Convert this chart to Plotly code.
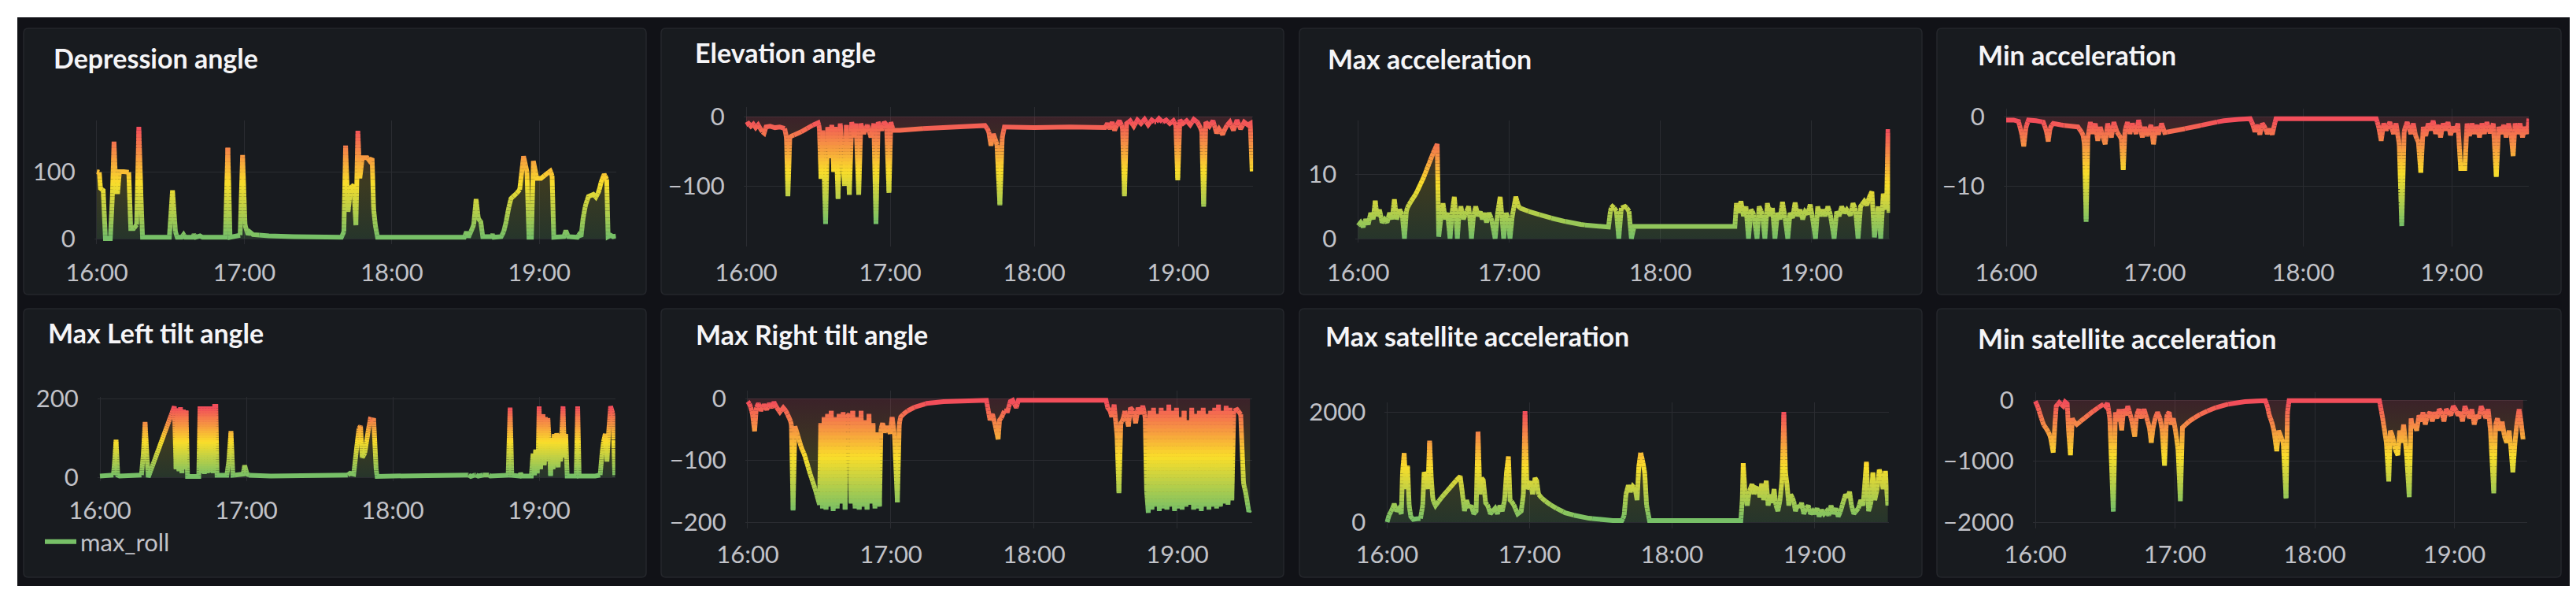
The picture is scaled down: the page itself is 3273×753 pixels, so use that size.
import numpy as np
import plotly.graph_objects as go

W, H = 3273, 753

hour_ticks = [0, 60, 120, 180]
hour_labels = ["16:00", "17:00", "18:00", "19:00"]

titles = [
    "Depression angle", "Elevation angle", "Max acceleration", "Min acceleration",
    "Max Left tilt angle", "Max Right tilt angle", "Max satellite acceleration",
    "Min satellite acceleration",
]
y_ticks = [[0, 100], [0, -100], [0, 10], [0, -10], [0, 200], [0, -100, -200],
           [0, 2000], [0, -1000, -2000]]

# (minutes after 16:00, value)
depression = [
    (0, 100), (1, 100), (1.5, 75), (2.6, 72), (3.5, 0), (5.5, 0), (6.3, 60), (7, 145), (7.8, 70),
    (8.5, 70), (9.2, 100), (11, 100), (13, 100), (13.8, 15), (15, 15), (16.2, 20), (17.1, 167),
    (18, 60), (18.6, 2), (29.5, 2), (30.8, 72), (32, 10), (32.7, 2), (34.5, 2), (35.3, 6), (36, 2),
    (39, 2), (39.5, 6), (40.2, 2), (42, 4), (43, 2), (52.3, 2), (53.3, 136), (54.2, 2), (58.3, 5),
    (59.3, 125), (60.3, 20), (61.5, 6), (62.2, 10), (63.5, 6), (70, 4), (80, 3), (90, 2), (99.5, 2),
    (100.5, 10), (101.2, 139), (102.2, 40), (103.3, 76), (104.5, 80), (105.4, 20), (106.2, 161),
    (107, 90), (108, 121), (110, 121), (111, 116), (112, 120), (112.6, 45), (113.3, 20), (114.2, 2),
    (149.5, 2), (150.4, 10), (151.2, 2), (153.3, 20), (154.3, 59), (155.2, 30), (156.2, 25), (157, 3),
    (160.5, 3), (161, 6), (161.5, 2), (164.5, 3), (165.5, 10), (166.5, 25), (167.5, 45), (168.5, 60),
    (170, 65), (172, 72), (173.6, 123), (175, 100), (175.8, 2), (176.8, 2), (177.6, 116), (179, 90),
    (180.7, 90), (182.4, 95), (184.5, 101), (185.2, 95), (185.9, 2), (190, 3), (190.8, 12), (191.8, 3),
    (195.5, 2), (196.2, 6), (197, 3), (197.8, 30), (198.8, 50), (200, 63), (202, 66), (203, 62),
    (204.2, 70), (205.2, 85), (206.4, 96), (207.4, 90), (208, 3), (209, 5), (210, 3), (211.2, 4),
]
elevation = [
    (0, -12), (1, -10), (2, -14), (3, -11), (4, -16), (5, -12), (6, -18), (6.8, -22), (7.5, -24),
    (8.3, -15), (10, -14), (12, -16), (14, -15), (16, -16), (16.8, -30), (17.4, -115), (18.2, -30),
    (19, -28), (22, -24), (25, -18), (28, -12), (30, -9), (30.5, -15), (31.2, -90), (32, -20),
    (33.1, -155), (34, -15), (35, -60), (35.7, -12), (36.5, -80), (37.3, -15), (38.3, -119),
    (39.2, -10), (40, -45), (41, -100), (41.8, -12), (43, -113), (44, -8), (45, -30), (45.8, -10),
    (46.9, -113), (47.8, -10), (49, -25), (50.5, -12), (52, -30), (53.2, -10), (54.1, -155), (55, -8),
    (56.5, -20), (57.5, -8), (58.5, -12), (59.5, -110), (60.3, -8), (61.3, -20), (64, -20), (70, -18),
    (80, -16), (90, -14), (99.5, -13), (101, -20), (102, -42), (103, -25), (104.5, -40), (105.7, -128),
    (106.7, -30), (107.6, -15), (120, -16), (135, -15), (149.5, -16), (150.5, -10), (151.5, -18),
    (152.5, -8), (153.5, -20), (154.5, -12), (155.5, -6), (156.8, -15), (157.6, -115), (158.5, -10),
    (160, -6), (161.5, -14), (163, -5), (164.5, -10), (166, -4), (167.5, -12), (169, -5), (170.5, -9),
    (172, -3), (173.5, -8), (175, -5), (176.5, -10), (178, -6), (179, -12), (179.8, -92), (180.7, -5),
    (182, -10), (183.5, -6), (185, -12), (186.5, -4), (188, -8), (189.8, -20), (190.6, -130),
    (191.5, -8), (193, -14), (194.5, -6), (196, -24), (197, -18), (198.5, -26), (200, -14),
    (201.5, -8), (203, -20), (204.5, -5), (206, -18), (207.5, -8), (209, -12), (210, -10), (210.8, -79),
]
max_acc = [
    (0, 2), (1, 2.5), (2, 1.8), (3, 3), (4, 2.2), (5, 4), (6, 3), (6.8, 5.9), (7.5, 3.5), (8.5, 4.5),
    (9.5, 2.5), (10.5, 3), (11.5, 2.5), (12.5, 4), (13.5, 3), (14.4, 6.1), (15.3, 3), (16.5, 4.5),
    (17.5, 3.8), (18.4, 0), (19.2, 4.5), (20.5, 5.5), (23, 7), (26, 9.5), (28, 11.5), (30, 13.5),
    (31.4, 14.7), (32, 0.3), (32.8, 3), (33.7, 5.5), (34.6, 3), (35.5, 4), (36.5, 0), (37.3, 4),
    (38.2, 6.5), (38.9, 3), (39.4, 0), (40, 3.5), (40.8, 5), (41.8, 3), (42.8, 4), (43.9, 5),
    (44.5, 2.5), (45, 0), (45.8, 3.5), (46.7, 5), (47.6, 3.5), (48.5, 4.2), (49.3, 3), (50.1, 4),
    (51, 2.5), (52, 4), (53, 3), (54.4, 0), (55.4, 4), (56.4, 6.5), (57.2, 3), (57.8, 0), (58.8, 4),
    (59.6, 3), (60.3, 0), (61.2, 3.5), (62.6, 6.5), (63.7, 5), (64.6, 4.7), (68, 4.2), (71.4, 3.8),
    (75.5, 3.3), (79.9, 2.9), (84, 2.5), (88.4, 2.2), (94, 1.95), (99.4, 1.8), (100.3, 4.7), (101, 5),
    (102.5, 4.5), (103.5, 0), (104.5, 4.8), (106, 5), (107.5, 4.5), (108.5, 0), (109.6, 1.9),
    (149.6, 1.9), (150.2, 5.5), (151, 4), (152, 5.8), (153, 3.5), (154, 5), (155, 0), (156, 4.5),
    (157, 4), (158.4, 0), (159.2, 5), (160.5, 3.8), (161.5, 0), (162.5, 5.5), (163.5, 3.5),
    (164.5, 4.8), (165.5, 0), (166.5, 4), (167.5, 3), (168.5, 5.7), (169.6, 3), (170.6, 0),
    (171.5, 4), (172.5, 3.2), (173.5, 5.6), (174.5, 3.5), (175.5, 4.5), (176.5, 3), (177.5, 4.2),
    (178.5, 3.8), (179.5, 5.3), (180.5, 3), (181.6, 0), (182.5, 5), (183.5, 3.5), (184.5, 4.5),
    (185.5, 3.5), (186.5, 5), (187.5, 3.8), (189, 0), (190, 4.2), (191, 3.5), (192, 5), (193, 4),
    (194, 4.5), (195.5, 3.6), (196.5, 5.5), (197.5, 4.5), (198.5, 0), (199.5, 5), (201, 5.8),
    (202, 5.2), (203, 6.5), (204, 7.3), (205, 0.2), (206.5, 5), (207.5, 0), (208.5, 7), (209.8, 4.5),
    (210.4, 17), (210.8, 4),
]
min_acc = [
    (0, -0.5), (3, -0.5), (5, -0.7), (6.3, -2.5), (7.1, -4.3), (8, -1.5), (9, -0.5), (12, -0.6),
    (15, -0.8), (16.2, -2), (17, -3.6), (17.8, -1.5), (19, -1), (22, -1.2), (26, -1.4), (29, -1.5),
    (31, -2.5), (31.6, -4), (32.3, -15.2), (33, -3), (34, -0.8), (35, -2.5), (36, -1), (37, -3.5),
    (38, -1.5), (39, -2.8), (40, -4), (41, -1), (42.5, -3), (43.5, -0.8), (45, -2.5), (46.5, -3),
    (47.3, -7.7), (48, -2), (49, -0.8), (50, -2.5), (51, -1), (52.5, -2.5), (53.5, -0.5), (55, -3),
    (56, -1.5), (57, -2.8), (58.5, -1.2), (59.5, -4), (60.5, -1.5), (61.5, -2.6), (62.8, -1),
    (64, -2.3), (70, -1.9), (76, -1.5), (82, -1), (88, -0.6), (94, -0.4), (98.6, -0.3), (99.5, -1),
    (100.5, -2.2), (101.5, -1.2), (102.5, -2.6), (103.5, -1), (104.5, -1.5), (105.5, -2.5),
    (106.5, -1.8), (107.5, -2.6), (108.5, -1), (109, -0.3), (149.5, -0.3), (150.5, -1.5),
    (151.5, -3.5), (152.5, -1), (153.5, -2), (155, -0.8), (156.5, -2.5), (157.5, -1), (158.8, -4),
    (159.8, -15.8), (160.8, -2), (162, -0.8), (163.5, -2.5), (164.5, -1), (165.5, -3), (166.5, -3.5),
    (167.5, -8.1), (168.5, -1.5), (169.5, -2.8), (170.5, -1), (171.5, -2), (172.5, -0.6),
    (173.5, -2.5), (174.5, -1.2), (175.5, -3), (176.5, -1), (177.5, -2), (178.5, -0.8), (179.5, -2.7),
    (180.5, -1.5), (181.5, -2.2), (182.5, -1), (183.6, -7.5), (185.3, -7.5), (186.2, -1),
    (187.2, -2.8), (188.2, -1), (189.2, -2.5), (190.2, -1.2), (191.2, -3), (192.2, -1), (193.2, -2.5),
    (194.2, -0.8), (195.5, -2.4), (196.8, -1), (198, -8.7), (199, -1.5), (200, -2.5), (201, -1.2),
    (202, -3), (203, -1), (204, -2.6), (204.8, -5.7), (205.6, -1), (206.6, -2.5), (207.6, -1),
    (208.6, -3), (209.6, -1.5), (210.6, -2.5), (211.2, -0.3),
]
left_tilt = [
    (0, 3), (3, 4), (5.5, 4), (6, 40), (6.6, 95), (7.3, 5), (8, 3), (12, 4), (15, 5), (17, 5),
    (17.8, 60), (18.5, 140), (19.2, 60), (19.8, 0), (30.5, 180), (31.2, 20), (31.8, 175), (32.4, 15),
    (33, 178), (33.6, 10), (34.2, 172), (34.8, 20), (35.3, 170), (35.9, 2), (40.5, 2), (41, 180),
    (41.6, 10), (42.2, 180), (42.8, 8), (43.4, 180), (44, 10), (44.6, 180), (45.2, 12), (45.8, 180),
    (46.4, 10), (47, 180), (47.5, 180), (48, 5), (52, 5), (52.8, 40), (53.7, 117), (54.5, 5),
    (58.7, 8), (59.3, 30), (60.3, 8), (61.4, 5), (70, 3), (80, 3), (90, 3), (101, 3), (102.5, 10),
    (104, 8), (105.5, 90), (106.2, 125), (106.8, 130), (107.5, 50), (108.5, 60), (110, 120),
    (110.8, 147), (112.2, 145), (113.2, 20), (113.6, 2), (120, 3), (130, 3), (140, 3), (150, 3),
    (151, 6), (152, 2), (154, 6), (155, 3), (159, 8), (160, 3), (167.3, 5), (168.1, 177), (168.8, 5),
    (172, 3), (172.4, 10), (173, 3), (176.8, 3), (177.5, 60), (178.1, 5), (178.6, 70), (179.2, 10),
    (179.7, 75), (180, 180), (180.6, 20), (181.1, 100), (181.6, 160), (182.1, 30), (182.6, 153),
    (183.1, 40), (183.6, 150), (184.2, 80), (184.7, 3), (185.2, 100), (185.7, 20), (186.2, 110),
    (186.7, 30), (187.2, 112), (187.8, 25), (188.3, 110), (188.8, 40), (189.3, 115), (189.8, 180),
    (190.4, 50), (190.9, 110), (191.5, 3), (195.2, 3), (195.8, 180), (196.4, 3), (203, 3), (205, 5),
    (205.8, 60), (206.4, 90), (207.1, 110), (207.8, 40), (208.5, 115), (209.3, 180), (210.3, 160),
    (211, 3),
]
right_tilt = [
    (0, -5), (1, -10), (2, -25), (2.9, -53), (3.6, -15), (4.5, -8), (5.5, -20), (6.8, -10), (8, -18),
    (9, -8), (10, -15), (11, -6), (12.2, -15), (13.5, -22), (14.9, -15), (15.8, -19), (17, -28),
    (18.3, -40), (19, -181), (19.8, -45), (21, -60), (22.5, -80), (23.8, -91), (26, -120),
    (28.3, -147), (30.1, -172), (30.6, -40), (31.3, -178), (32, -30), (32.8, -180), (33.5, -25),
    (34.3, -175), (35, -20), (35.8, -182), (36.7, -30), (37.5, -178), (38.3, -25), (39.2, -170),
    (40, -22), (40.8, -180), (41.5, -30), (42.5, -25), (43.3, -170), (44, -20), (45, -178),
    (45.8, -30), (46.7, -180), (47.5, -20), (48.3, -175), (49.2, -35), (50, -180), (50.8, -25),
    (51.7, -170), (52.5, -40), (53.3, -178), (54, -55), (55.2, -175), (55.8, -50), (56.5, -40),
    (57.5, -55), (58.5, -45), (59.7, -57), (60.5, -30), (61.5, -60), (62.7, -168), (63.5, -40),
    (64.1, -30), (66, -22), (70, -14), (75, -8), (82, -5), (90, -4), (100, -3), (100.8, -20),
    (101.5, -35), (102.5, -25), (103.5, -40), (104.9, -66), (105.5, -35), (106.5, -30), (107.5, -20),
    (108.9, -20), (110, -5), (111, -3), (112.5, -15), (113.4, -3), (150.1, -3), (150.8, -15),
    (151.8, -20), (152.5, -30), (153.5, -10), (154.7, -60), (155.5, -153), (156.3, -40),
    (157.2, -35), (158, -20), (159.5, -45), (160.3, -15), (161.5, -20), (162.5, -40), (163.5, -15),
    (164.5, -25), (165.5, -12), (166.5, -30), (167.1, -150), (167.8, -185), (168.5, -20),
    (169.3, -180), (170, -15), (170.8, -175), (171.6, -25), (172.4, -182), (173.2, -15),
    (174, -178), (174.8, -20), (175.6, -180), (176.4, -10), (177.2, -175), (178, -20), (178.8, -182),
    (179.6, -15), (180.4, -178), (181.2, -30), (182, -180), (182.8, -20), (183.6, -175),
    (184.4, -35), (185.2, -172), (186, -15), (186.8, -180), (187.6, -25), (188.4, -178),
    (189.2, -20), (190, -182), (190.8, -15), (191.6, -175), (192.4, -25), (193.2, -180), (194, -20),
    (194.8, -175), (195.6, -15), (196.4, -178), (197.2, -10), (198, -175), (198.8, -20),
    (199.6, -170), (200.4, -12), (201.2, -172), (202, -15), (202.8, -165), (203.6, -20), (205, -18),
    (206.5, -25), (207.7, -138), (208.5, -150), (209.9, -183), (210.4, -180),
]
max_sat_acc = [
    (0, 0), (1, 150), (2, 214), (3, 333), (4, 200), (5, 250), (6, 150), (6.5, 900), (7.2, 1252),
    (7.9, 600), (8.6, 1024), (9.3, 300), (10, 100), (11, 50), (12.5, 60), (14, 50), (15, 300),
    (15.6, 905), (16.5, 800), (17.2, 600), (17.9, 1476), (18.6, 800), (19.3, 400), (20.4, 300),
    (23, 450), (26, 600), (29, 750), (30.8, 833), (31.5, 600), (32.6, 200), (33.5, 400), (34.5, 250),
    (35.5, 300), (36.5, 150), (37.5, 200), (38.3, 1643), (39.1, 500), (39.8, 800), (40.5, 762),
    (41.5, 350), (42.5, 300), (43.5, 150), (44.5, 200), (45.5, 250), (46.5, 150), (47.5, 300),
    (48.5, 200), (49.5, 400), (50.3, 900), (51.1, 1190), (51.8, 400), (53, 350), (54, 250),
    (55, 150), (56.5, 200), (57.4, 500), (58.1, 2014), (58.9, 600), (60.4, 738), (61.3, 500),
    (62.3, 800), (63, 750), (63.8, 500), (66, 400), (70, 280), (75, 170), (80, 110), (85, 70),
    (90, 45), (95, 30), (98.9, 30), (99.8, 100), (100.6, 500), (101.6, 667), (102.5, 550),
    (103.5, 650), (104.5, 600), (105.3, 400), (106, 1000), (106.8, 1262), (107.6, 1119), (108.5, 900),
    (109.3, 300), (110.5, 30), (149, 30), (149.6, 400), (150, 1071), (150.8, 500), (151.7, 300),
    (152.5, 550), (153.7, 690), (154.5, 500), (155.3, 620), (156.4, 600), (157, 450), (157.8, 700),
    (158.6, 400), (159.7, 750), (160.5, 300), (161.3, 500), (162.2, 350), (163, 600), (163.8, 300),
    (164.6, 200), (165.5, 400), (166.4, 800), (167.1, 2000), (167.8, 900), (168.4, 700), (169.2, 300),
    (170, 500), (171.2, 400), (172, 200), (172.8, 300), (173.7, 250), (174.6, 350), (175.5, 150),
    (176.5, 250), (177.4, 300), (178.3, 150), (179.3, 200), (180, 150), (181.1, 250), (182, 100),
    (183, 220), (184, 150), (185.1, 200), (186, 120), (187, 300), (188, 150), (189, 250), (190, 100),
    (191, 200), (192, 350), (193.1, 500), (194, 450), (194.8, 550), (195.6, 300), (196.6, 150),
    (197.5, 200), (198.5, 250), (199.5, 400), (200.5, 300), (201.9, 1095), (202.8, 200),
    (203.8, 350), (204.6, 900), (205.4, 400), (206.4, 600), (207.3, 952), (208.1, 850), (208.9, 600),
    (209.9, 928), (210.9, 300),
]
min_sat_acc = [
    (0, -20), (1, -100), (1.8, -200), (3.5, -400), (5.3, -500), (6.5, -600), (7.7, -860), (8.5, -350),
    (9, -100), (10.3, -40), (12, -100), (12.8, -30), (13.7, -60), (14.3, -500), (15.1, -903),
    (15.9, -300), (16.5, -350), (17.8, -400), (20, -330), (23, -240), (26, -150), (29.4, -65),
    (30.2, -100), (31, -50), (32, -300), (33.5, -1828), (34.4, -200), (35.2, -350), (36, -150),
    (37.1, -495), (37.9, -150), (38.9, -250), (39.7, -100), (40.5, -200), (41.5, -350), (42.7, -600),
    (43.5, -250), (44.5, -150), (45.5, -300), (46.7, -150), (47.9, -300), (49, -450), (49.8, -700),
    (50.6, -450), (51.5, -300), (52.5, -200), (53.6, -300), (54.5, -500), (55.5, -1075), (56.4, -250),
    (57.5, -200), (58.3, -400), (59.3, -300), (60.2, -500), (61.3, -800), (62.3, -1656), (63.2, -450),
    (66, -350), (70, -250), (75, -160), (80, -90), (85, -50), (90, -25), (95, -15), (98.8, -10),
    (99.7, -100), (100.5, -250), (101.5, -350), (102.5, -500), (103.7, -838), (104.5, -500),
    (105.5, -600), (106.5, -700), (107.7, -1613), (108.3, -200), (109, -10), (147.8, -10),
    (148.5, -150), (149.2, -300), (150, -500), (150.8, -700), (151.8, -1333), (152.5, -500),
    (153.5, -600), (154.5, -800), (155.7, -903), (156.5, -500), (157.3, -700), (158.2, -400),
    (159.5, -900), (160.6, -1591), (161.4, -300), (162, -450), (163, -400), (163.8, -500),
    (164.8, -250), (165.8, -350), (166.5, -200), (167.5, -400), (168.5, -250), (169.5, -200),
    (170.5, -350), (171.5, -200), (172.5, -300), (173.5, -150), (174.5, -200), (175.5, -350),
    (176.5, -150), (177.5, -200), (178.5, -250), (179.5, -100), (180.5, -150), (181.5, -250),
    (182.5, -200), (183.5, -350), (184.5, -100), (185.5, -200), (186.5, -300), (187.5, -150),
    (188.5, -400), (189.5, -250), (190.5, -300), (191.5, -100), (192.5, -200), (193.5, -300),
    (194.5, -150), (195.5, -500), (196.9, -1527), (197.7, -400), (198.5, -300), (199.5, -500),
    (200.5, -350), (201.5, -600), (202.5, -700), (203.5, -500), (204.3, -800), (205.1, -1183),
    (206, -700), (206.8, -400), (207.8, -150), (208.6, -350), (209.5, -645),
]
series = [depression, elevation, max_acc, min_acc, left_tilt, right_tilt, max_sat_acc, min_sat_acc]

# pixel geometry of each panel: box, x of 16:00, px per hour, y px of 0, px per unit,
# plot top/bottom px, title position, x label centre
panels = [
    dict(box=(22, 28, 813, 366), x16=115, pph=187.4, y0=295, ppu=0.85, top=145, bot=302, tx=58, ty=65, ly=330),
    dict(box=(832, 28, 1623, 366), x16=940, pph=183, y0=140, ppu=0.88, top=128, bot=305, tx=873, ty=58, ly=330),
    dict(box=(1643, 28, 2434, 366), x16=1717.6, pph=192, y0=295, ppu=8.17, top=145, bot=300, tx=1677, ty=66, ly=330),
    dict(box=(2453, 28, 3246, 366), x16=2541, pph=188.7, y0=140, ppu=8.8, top=130, bot=305, tx=2503, ty=61, ly=330),
    dict(box=(22, 384, 813, 725), x16=119, pph=186, y0=598, ppu=0.5, top=496, bot=603, tx=51, ty=415, ly=632),
    dict(box=(832, 384, 1623, 725), x16=942, pph=182, y0=498, ppu=0.785, top=488, bot=663, tx=874, ty=417, ly=688),
    dict(box=(1643, 384, 2434, 725), x16=1754.4, pph=181, y0=655, ppu=0.07, top=503, bot=663, tx=1674, ty=419, ly=688),
    dict(box=(2453, 384, 3246, 725), x16=2578, pph=177.5, y0=500, ppu=0.0775, top=490, bot=663, tx=2503, ty=422, ly=688),
]

X_RANGE = [-1, 211.2]
NBINS = 32
LINE_W = 6
GREEN, YELLOW, RED = (115, 191, 105), (250, 222, 42), (242, 73, 92)
TICK_FONT = dict(family="Lato", size=31, color="#c1c2c8")
GRID = "#2a2c31"
CLEAR = "rgba(0,0,0,0)"


def scheme(frac, alpha=1.0):
    if frac <= 0.5:
        a, b, f = GREEN, YELLOW, frac / 0.5
    else:
        a, b, f = YELLOW, RED, (frac - 0.5) / 0.5
    r, g, bl = (int(round(a[i] + (b[i] - a[i]) * f)) for i in range(3))
    return f"rgba({r},{g},{bl},{alpha})"


def split_levels(ts, vs, edges):
    """cut the polyline where it crosses colour levels, so each piece gets its own colour"""
    nb = len(edges) - 1
    xs = [[] for _ in range(nb)]
    ys = [[] for _ in range(nb)]
    last = [None] * nb
    for i in range(len(ts) - 1):
        t0, v0, t1, v1 = ts[i], vs[i], ts[i + 1], vs[i + 1]
        cuts = [e for e in edges[1:-1] if min(v0, v1) < e < max(v0, v1)]
        if v1 < v0:
            cuts = cuts[::-1]
        pts = [(t0, v0)] + [(t0 + (e - v0) / (v1 - v0) * (t1 - t0), e) for e in cuts] + [(t1, v1)]
        for a, b in zip(pts[:-1], pts[1:]):
            k = int(np.clip(np.searchsorted(edges, (a[1] + b[1]) / 2) - 1, 0, nb - 1))
            if last[k] != a:
                if xs[k]:
                    xs[k].append(None)
                    ys[k].append(None)
                xs[k].append(a[0])
                ys[k].append(a[1])
            xs[k].append(b[0])
            ys[k].append(b[1])
            last[k] = b
    return xs, ys


def rounded_rect(x0, y0, x1, y1, r=6):
    X = lambda x: x / W
    Y = lambda y: 1 - y / H
    return (
        f"M {X(x0 + r)} {Y(y0)} L {X(x1 - r)} {Y(y0)} Q {X(x1)} {Y(y0)} {X(x1)} {Y(y0 + r)} "
        f"L {X(x1)} {Y(y1 - r)} Q {X(x1)} {Y(y1)} {X(x1 - r)} {Y(y1)} "
        f"L {X(x0 + r)} {Y(y1)} Q {X(x0)} {Y(y1)} {X(x0)} {Y(y1 - r)} "
        f"L {X(x0)} {Y(y0 + r)} Q {X(x0)} {Y(y0)} {X(x0 + r)} {Y(y0)} Z"
    )


fig = go.Figure()
layout = {}
shapes = [dict(type="rect", xref="paper", yref="paper", x0=14 / W, x1=3257 / W, y0=1 - 736 / H,
               y1=1 - 14 / H, fillcolor="#111217", line=dict(width=0), layer="below")]
annotations = []

for i, (data, p) in enumerate(zip(series, panels)):
    n = "" if i == 0 else str(i + 1)
    ts = [d[0] for d in data]
    vs = [d[1] for d in data]
    vmin, vmax = min(vs), max(vs)

    fig.add_trace(go.Scatter(
        x=ts, y=vs, mode="lines", line=dict(width=0), fill="tozeroy",
        fillgradient=dict(type="vertical", start=vmin, stop=vmax,
                          colorscale=[[0, scheme(0, 0.16)], [0.5, scheme(0.5, 0.16)], [1, scheme(1, 0.16)]]),
        xaxis="x" + n, yaxis="y" + n, hoverinfo="skip", showlegend=False,
    ))

    edges = np.linspace(vmin, vmax, NBINS + 1)
    xs, ys = split_levels(ts, vs, edges)
    for k in range(NBINS):
        if not xs[k]:
            continue
        legend_item = i == 4 and k == 0
        fig.add_trace(go.Scatter(
            x=xs[k], y=ys[k], mode="lines", name="max_roll" if legend_item else "",
            line=dict(color=scheme((k + 0.5) / NBINS), width=LINE_W),
            xaxis="x" + n, yaxis="y" + n, hoverinfo="skip", showlegend=legend_item,
        ))

    left = p["x16"] + X_RANGE[0] / 60 * p["pph"]
    right = p["x16"] + X_RANGE[1] / 60 * p["pph"]
    y_lo = (p["y0"] - p["bot"]) / p["ppu"]
    y_hi = (p["y0"] - p["top"]) / p["ppu"]

    # invisible tick marks push the labels away from the plot edge
    layout["xaxis" + n] = dict(
        domain=[left / W, right / W], range=X_RANGE, anchor="y" + n, automargin=False,
        tickvals=hour_ticks, ticktext=hour_labels, showgrid=True, gridcolor=GRID, gridwidth=1,
        zeroline=False, showline=False, ticks="outside", tickcolor=CLEAR,
        ticklen=max(1, p["ly"] - p["bot"] - 19), tickfont=TICK_FONT, fixedrange=True,
    )
    layout["yaxis" + n] = dict(
        domain=[1 - p["bot"] / H, 1 - p["top"] / H], range=[y_lo, y_hi], anchor="x" + n,
        automargin=False, tickvals=y_ticks[i], showgrid=True, gridcolor=GRID, gridwidth=1,
        zeroline=False, showline=False, ticks="outside", tickcolor=CLEAR, ticklen=17,
        tickfont=TICK_FONT, fixedrange=True,
    )

    x0, y0, x1, y1 = p["box"]
    shapes.append(dict(type="path", xref="paper", yref="paper", path=rounded_rect(x0, y0, x1, y1),
                       fillcolor="#181b1f", line=dict(color="#25272c", width=1.5), layer="below"))
    annotations.append(dict(
        text=titles[i], x=p["tx"] / W, y=1 - p["ty"] / H, xref="paper", yref="paper",
        xanchor="left", yanchor="middle", showarrow=False,
        font=dict(family="Lato", size=34, color="#f5f5f7", weight="bold"),
    ))

fig.update_layout(
    width=W, height=H, margin=dict(l=0, r=0, t=0, b=0, pad=0, autoexpand=False),
    paper_bgcolor="white", plot_bgcolor=CLEAR,
    shapes=shapes, annotations=annotations, showlegend=True,
    legend=dict(x=44 / W, y=1 - 680 / H, xanchor="left", yanchor="middle",
                bgcolor=CLEAR, font=TICK_FONT, itemwidth=40),
    **layout,
)

fig.write_html("out.html")
